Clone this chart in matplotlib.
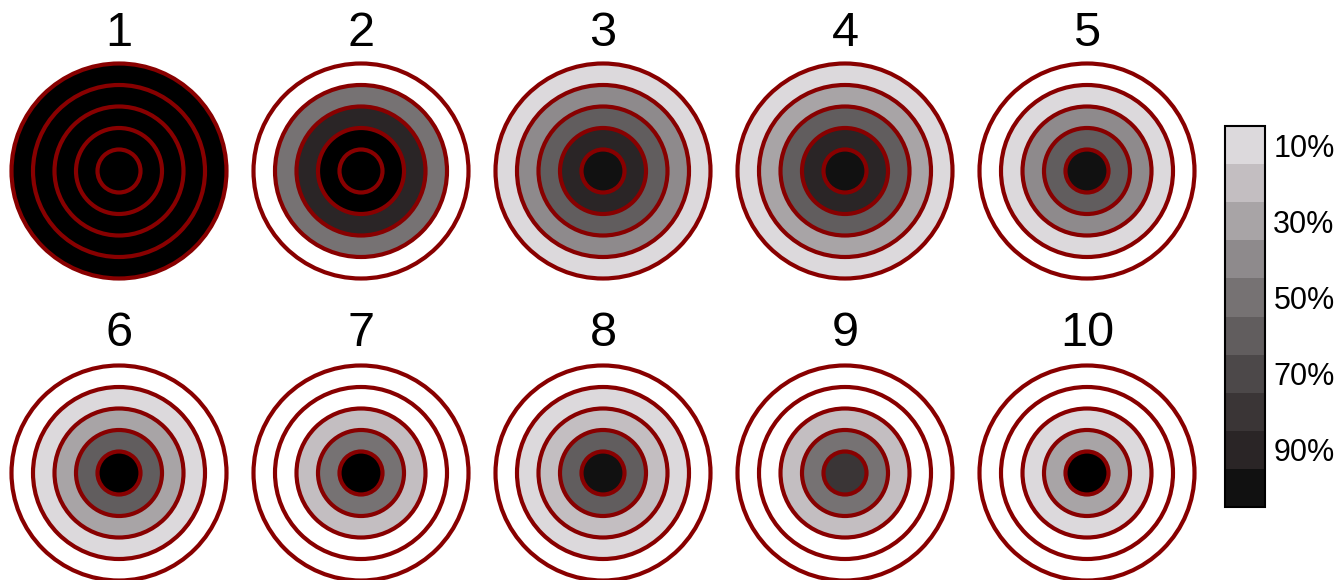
import matplotlib.pyplot as plt
import numpy as np
from matplotlib.colors import ListedColormap, BoundaryNorm
from matplotlib.patches import Wedge, Circle
from matplotlib.colorbar import ColorbarBase

plt.rcParams['font.family'] = ['Liberation Sans', 'DejaVu Sans']

# percentage per ring, innermost first (0 = no hits -> white, 100 -> black)
labels = ['1', '2', '3', '4', '5', '6', '7', '8', '9', '10']
ring_values = [
    [100, 100, 100, 100, 100],
    [100, 100, 85, 45, 0],
    [95, 85, 55, 35, 5],
    [95, 85, 55, 25, 5],
    [95, 55, 35, 5, 0],
    [100, 55, 25, 5, 0],
    [100, 45, 15, 0, 0],
    [95, 55, 15, 5, 0],
    [75, 45, 15, 0, 0],
    [100, 25, 5, 0, 0],
]
level_colors = ['#dcd9dc', '#c3bec1', '#a8a4a6', '#8e8a8c', '#767273',
                '#615d5e', '#4c4849', '#3a3536', '#2a2526', '#111111']
bounds = np.arange(0, 101, 10)
tick_vals = [5, 25, 45, 65, 85]
tick_labels = ['10%', '30%', '50%', '70%', '90%']

cmap = ListedColormap(level_colors)
norm = BoundaryNorm(bounds, cmap.N)


def ring_color(v):
    if v <= 0:
        return 'white'
    if v >= 100:
        return 'black'
    return cmap(norm(v))


W, H = 1337, 580
fig = plt.figure(figsize=(W / 100, H / 100), dpi=100)
ax = fig.add_axes([0, 0, 1, 1])
ax.set_xlim(0, W)
ax.set_ylim(H, 0)
ax.set_aspect('equal')
ax.axis('off')

x0, dx = 119, 242
row_y = [171, 473]
title_y = [33, 334]
r_step = 21.5
ring_red = '#880000'

for i, vals in enumerate(ring_values):
    row, col = divmod(i, 5)
    cx, cy = x0 + col * dx, row_y[row]
    for k, v in enumerate(vals):
        r_out = r_step * (k + 1)
        ax.add_patch(Wedge((cx, cy), r_out, 0, 360, width=r_step,
                           facecolor=ring_color(v), edgecolor='none'))
    for k in range(len(vals)):
        ax.add_patch(Circle((cx, cy), r_step * (k + 1), facecolor='none',
                            edgecolor=ring_red, lw=3))
    ax.text(cx, title_y[row], labels[i], ha='center', va='center', fontsize=35)

cax = fig.add_axes([1225 / W, (H - 507) / H, 40 / W, 381 / H])
cb = ColorbarBase(cax, cmap=cmap, norm=norm, boundaries=bounds,
                  ticks=tick_vals, drawedges=True, orientation='vertical')
cax.invert_yaxis()
cb.set_ticklabels(tick_labels)
cb.minorticks_off()
cax.tick_params(which='both', length=0, labelsize=22, pad=6)
cb.outline.set_linewidth(1.5)
cb.dividers.set_linewidth(1.5)

plt.savefig('out.png', dpi=100)
